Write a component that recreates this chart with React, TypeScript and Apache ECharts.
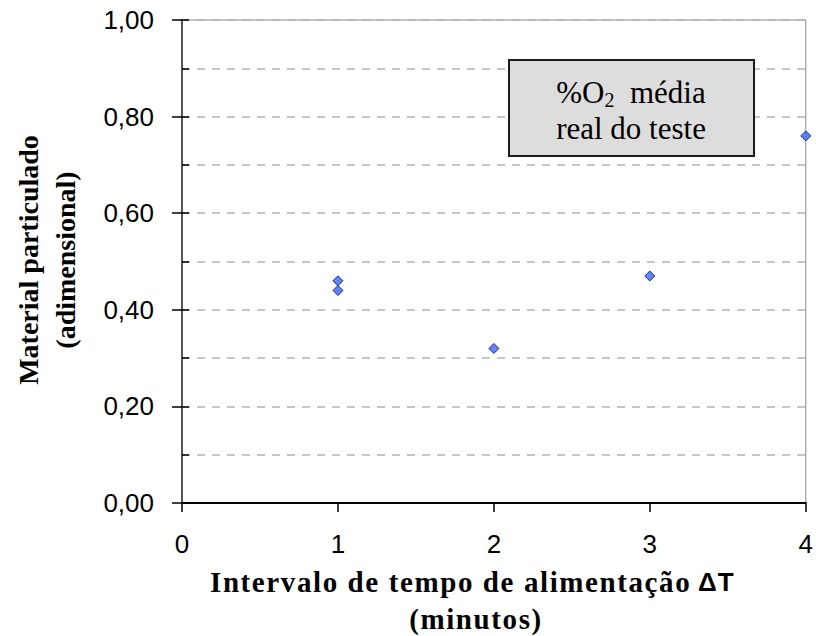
import React, { useEffect, useRef } from "react";
import * as echarts from "echarts";

// Feeding interval (minutes) and dimensionless particulate matter
const intervalMinutes: number[] = [1, 1, 2, 3, 4];
const particulate: number[] = [0.46, 0.44, 0.32, 0.47, 0.76];

const xTicks: number[] = [0, 1, 2, 3, 4];
const yTickLabels: string[] = ["0,00", "0,20", "0,40", "0,60", "0,80", "1,00"];

const yTitle: string[] = ["Material particulado", "(adimensional)"];
const xTitle: string[] = ["Intervalo de tempo de alimentação", "ΔT", "(minutos)"];
const boxLines: string[] = ["média", "real do teste"];

const SERIF = "'Liberation Serif', 'Times New Roman', serif";
const SANS = "'Liberation Sans', Arial, sans-serif";

// zrender has no letter-spacing option, so the spaced x title gets it on the SVG node
function spaceXTitle(root: HTMLElement) {
  root.querySelectorAll("text").forEach((t) => {
    const s = t.textContent || "";
    if (s === xTitle[0] || s === xTitle[2]) t.setAttribute("letter-spacing", "1.6");
    if (s === xTitle[1]) t.setAttribute("letter-spacing", "1");
  });
}

export default function App() {
  const ref = useRef<HTMLDivElement>(null);

  useEffect(() => {
    if (!ref.current) return;
    const el = ref.current;
    const chart = echarts.init(el, null, { renderer: "svg" });

    const option: echarts.EChartsOption = {
      animation: false,
      backgroundColor: "#ffffff",
      grid: {
        left: 182,
        right: 9,
        top: 20,
        bottom: 133,
        show: true,
        borderColor: "#8a8a8a",
        borderWidth: 1,
        backgroundColor: "transparent",
      },
      xAxis: {
        type: "value",
        min: xTicks[0],
        max: xTicks[xTicks.length - 1],
        interval: 1,
        axisLine: { show: true, lineStyle: { color: "#000", width: 2 } },
        axisTick: { show: true, inside: false, length: 9, lineStyle: { color: "#000", width: 1.5 } },
        axisLabel: { fontFamily: SANS, fontSize: 26, color: "#000", margin: 28 },
        splitLine: { show: false },
      },
      yAxis: [
        {
          type: "value",
          min: 0,
          max: 1,
          interval: 0.1,
          axisLine: { show: true, lineStyle: { color: "#555", width: 2 } },
          axisTick: { show: true, inside: true, length: 7, lineStyle: { color: "#000", width: 1.5 } },
          axisLabel: { show: false },
          splitLine: {
            show: true,
            lineStyle: { color: "#b4b4b4", width: 1.5, type: [8, 7] },
          },
        },
        {
          type: "value",
          position: "left",
          min: 0,
          max: 1,
          interval: 0.2,
          axisLine: { show: true, lineStyle: { color: "#555", width: 2 } },
          axisTick: { show: true, inside: false, length: 10, lineStyle: { color: "#000", width: 1.5 } },
          axisLabel: {
            fontFamily: SANS,
            fontSize: 26,
            color: "#000",
            margin: 28,
            formatter: (v: number) => yTickLabels[Math.round(v / 0.2)] ?? "",
          },
          splitLine: { show: false },
        },
      ],
      series: [
        {
          type: "scatter",
          yAxisIndex: 0,
          symbol: "diamond",
          symbolSize: 10,
          itemStyle: { color: "#3366ff", borderColor: "#000080", borderWidth: 1 },
          data: intervalMinutes.map((x, i) => [x, particulate[i]]),
          z: 5,
        },
      ],
      graphic: [
        // y-axis title
        {
          type: "text",
          x: 28,
          y: 260,
          rotation: Math.PI / 2,
          style: {
            text: yTitle[0],
            font: `bold 28px ${SERIF}`,
            fill: "#000",
            align: "center",
            verticalAlign: "middle",
          },
        },
        {
          type: "text",
          x: 65,
          y: 260,
          rotation: Math.PI / 2,
          style: {
            text: yTitle[1],
            font: `bold 28px ${SERIF}`,
            fill: "#000",
            align: "center",
            verticalAlign: "middle",
          },
        },
        // x-axis title
        {
          type: "text",
          x: 210,
          y: 582,
          style: {
            text: xTitle[0],
            font: `bold 29px ${SERIF}`,
            fill: "#000",
            align: "left",
            verticalAlign: "middle",
          },
        },
        {
          type: "text",
          x: 698,
          y: 582,
          style: {
            text: xTitle[1],
            font: `bold 26px ${SANS}`,
            fill: "#000",
            align: "left",
            verticalAlign: "middle",
          },
        },
        {
          type: "text",
          x: 476,
          y: 619,
          style: {
            text: xTitle[2],
            font: `bold 29px ${SERIF}`,
            fill: "#000",
            align: "center",
            verticalAlign: "middle",
          },
        },
        // annotation box
        {
          type: "rect",
          shape: { x: 509, y: 60, width: 245, height: 96 },
          style: { fill: "#dddddd", stroke: "#1a1a1a", lineWidth: 2 },
          z: 10,
        },
        {
          type: "text",
          x: 631,
          y: 92,
          z: 11,
          style: {
            text: "{m|%O}{sub|2}{m|  " + boxLines[0] + "}",
            fill: "#000",
            align: "center",
            verticalAlign: "middle",
            rich: {
              m: { fontFamily: SERIF, fontSize: 31, lineHeight: 36, fill: "#000" } as any,
              sub: {
                fontFamily: SERIF,
                fontSize: 20,
                lineHeight: 22,
                verticalAlign: "bottom",
                fill: "#000",
              } as any,
            },
          },
        },
        {
          type: "text",
          x: 631,
          y: 128,
          z: 11,
          style: {
            text: boxLines[1],
            font: `31px ${SERIF}`,
            fill: "#000",
            align: "center",
            verticalAlign: "middle",
          },
        },
      ],
    };

    chart.setOption(option);
    const apply = () => spaceXTitle(el);
    chart.on("finished", apply);
    apply();
    const t1 = setTimeout(apply, 0);
    const t2 = setTimeout(apply, 100);
    return () => {
      clearTimeout(t1);
      clearTimeout(t2);
      chart.dispose();
    };
  }, []);

  return (
    <div
      ref={ref}
      style={{ position: "fixed", left: 0, top: 0, width: 816, height: 636, background: "#fff" }}
    />
  );
}
